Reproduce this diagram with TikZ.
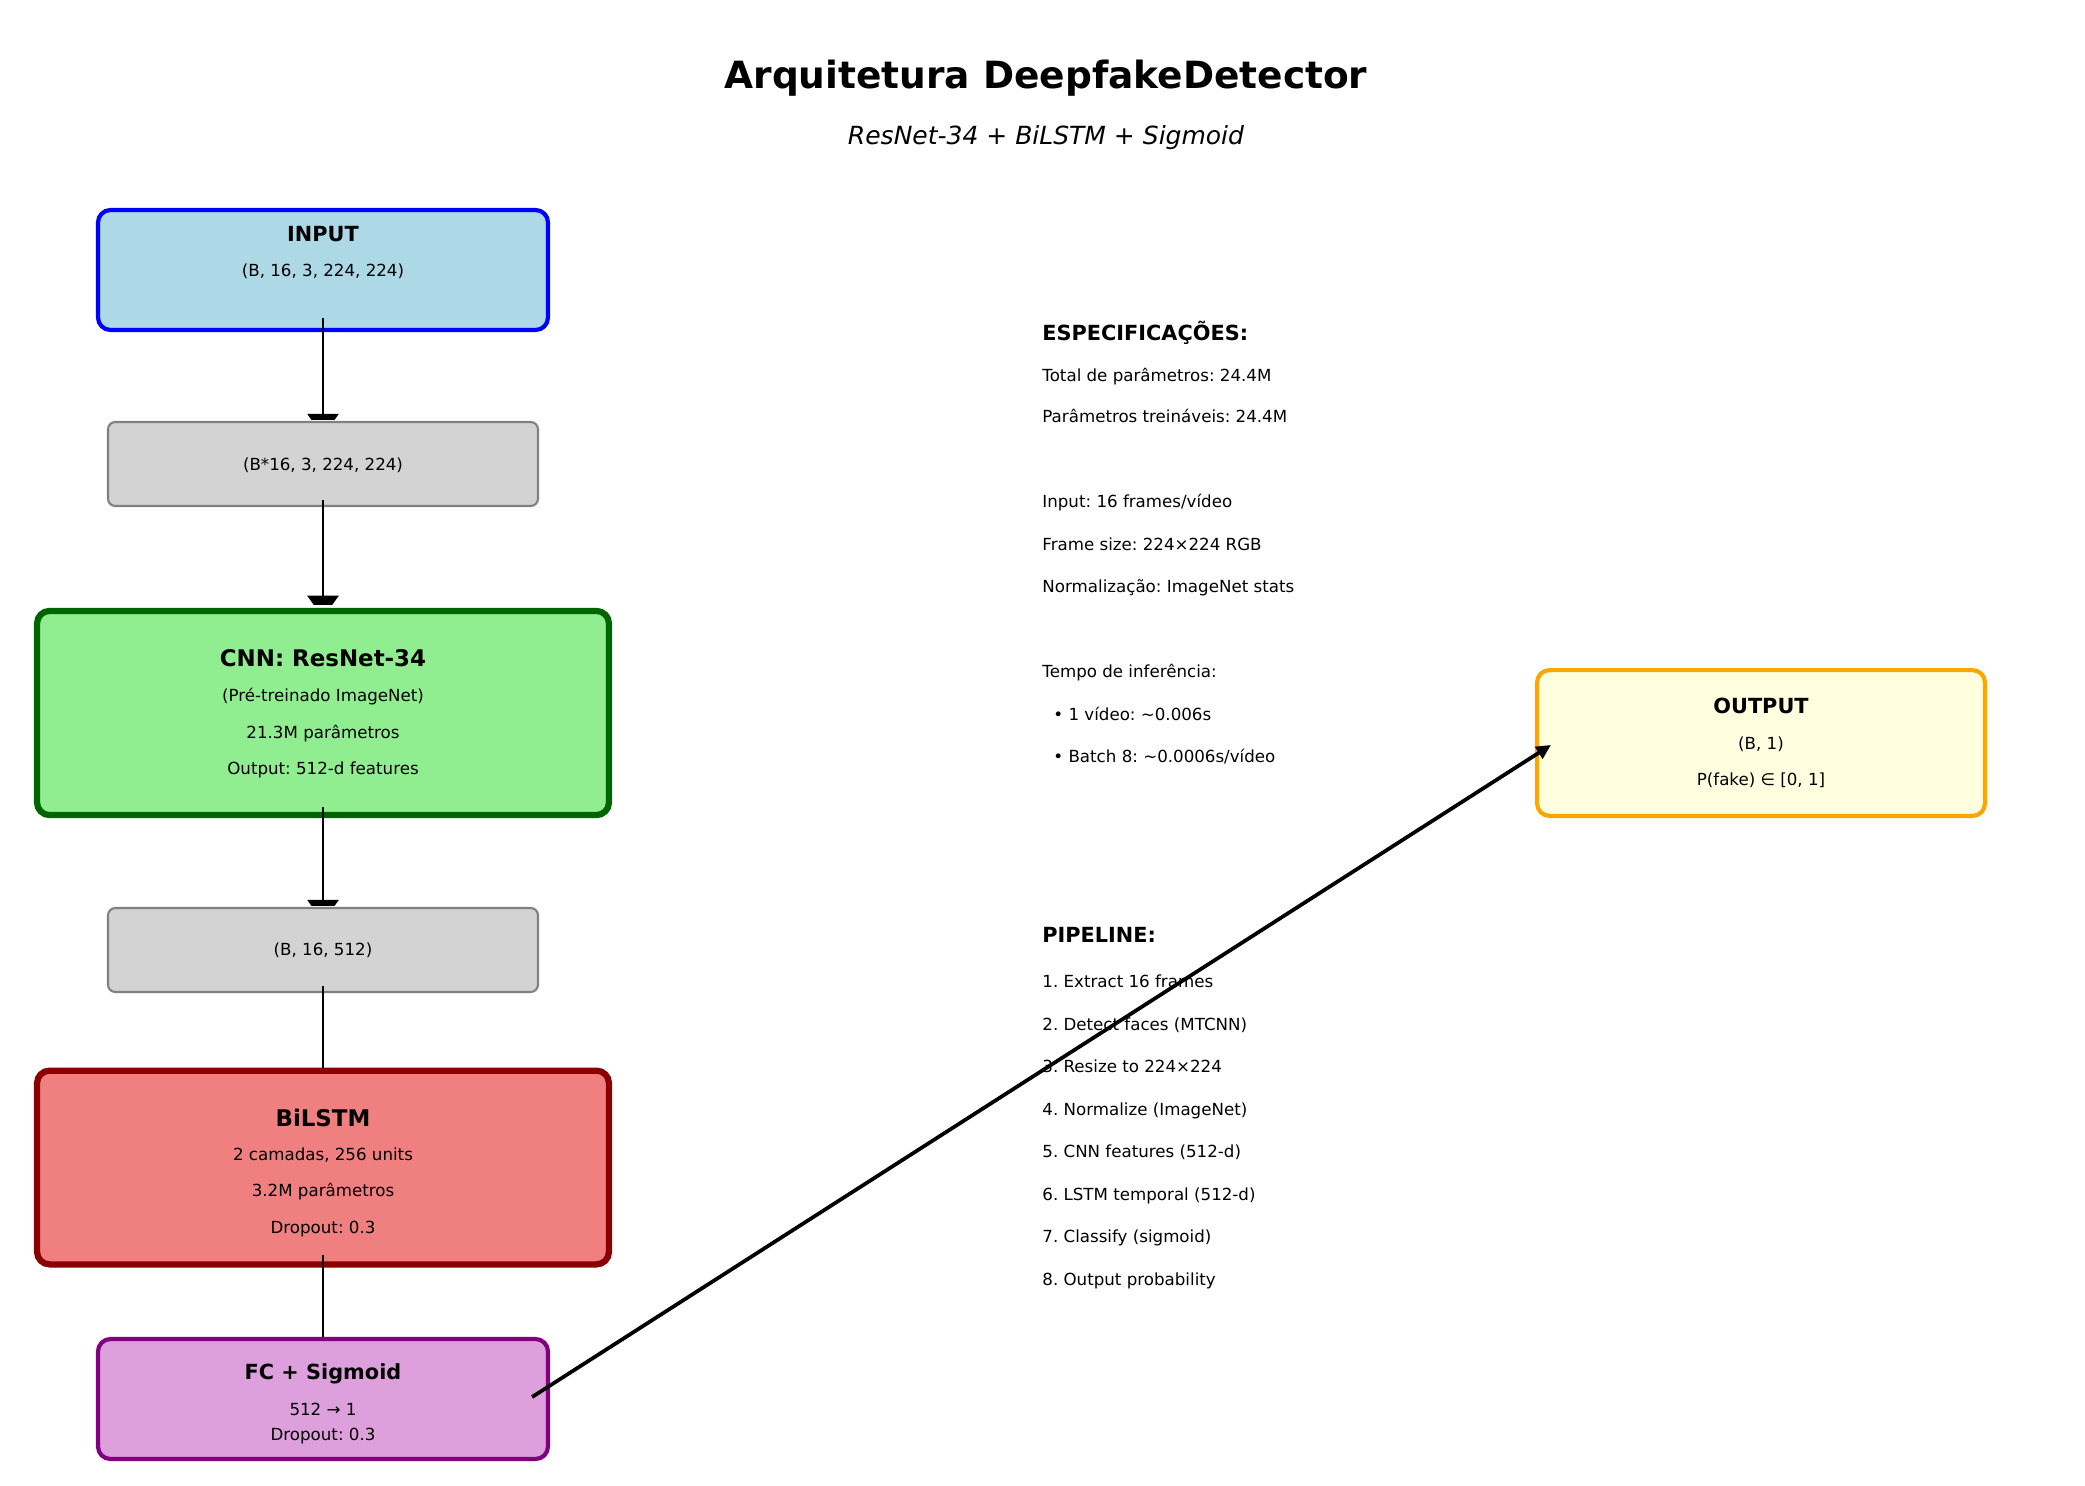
\documentclass[tikz,border=0pt]{standalone}
\usepackage{fontspec}
\setmainfont{DejaVu Sans}
\frenchspacing
\usetikzlibrary{calc,arrows.meta}
\definecolor{cInFill}{HTML}{ADD8E6}
\definecolor{cInLine}{HTML}{0000FF}
\definecolor{cGray}{HTML}{D3D3D3}
\definecolor{cGrayLine}{HTML}{808080}
\definecolor{cCnnFill}{HTML}{90EE90}
\definecolor{cCnnLine}{HTML}{006400}
\definecolor{cLstmFill}{HTML}{F08080}
\definecolor{cLstmLine}{HTML}{8B0000}
\definecolor{cFcFill}{HTML}{DDA0DD}
\definecolor{cFcLine}{HTML}{800080}
\definecolor{cOutFill}{HTML}{FFFFE0}
\definecolor{cOutLine}{HTML}{FFA500}
\begin{document}
\begin{tikzpicture}[x=0.48pt,y=-0.48pt,
  box/.style={draw, rounded corners=6pt, inner sep=0pt},
  shapebox/.style={draw=cGrayLine, fill=cGray, line width=1pt, rounded corners=3.5pt, inner sep=0pt, minimum width=206.4pt, minimum height=40.3pt},
  txt/.style={inner sep=0pt, text height=6.1pt, text depth=1.9pt, font=\fontsize{8}{10}\selectfont},
  ttl/.style={inner sep=0pt, text height=7.6pt, text depth=2.4pt, font=\fontsize{10}{12}\selectfont\bfseries},
  bigttl/.style={inner sep=0pt, text height=8.4pt, text depth=2.6pt, font=\fontsize{11}{13}\selectfont\bfseries},
  lbl/.style={txt, anchor=west},
  lblhead/.style={ttl, anchor=west},
  varr/.style={line width=1.2pt, -{Triangle[width=14.9pt,length=10.6pt]}},
  vline/.style={line width=1.2pt},
  darr/.style={line width=1.8pt, -{Triangle[width=6.5pt,length=7pt]}}
]
\useasboundingbox (0,0) rectangle (2085,1485);

% title
\node[inner sep=0pt, text height=13.7pt, text depth=4.3pt, font=\fontsize{18}{22}\selectfont\bfseries] (title) at (1046,79) {Arquitetura DeepfakeDetector};
\node[inner sep=0pt, text height=9.1pt, text depth=2.9pt, font=\fontsize{12}{14}\selectfont\itshape] (subtitle) at (1046,138) {ResNet-34 + BiLSTM + Sigmoid};

% boxes
\node[box, draw=cInLine, fill=cInFill, line width=2pt, minimum width=216pt, minimum height=57.6pt] (input) at (323,270) {};
\node[ttl] (inputT) at (323,236) {INPUT};
\node[txt] (inputS) at (323,272) {(B, 16, 3, 224, 224)};

\node[shapebox] (g1) at (323,464) {};
\node[txt] (g1T) at (323,466) {(B*16, 3, 224, 224)};

\node[box, draw=cCnnLine, fill=cCnnFill, line width=3pt, minimum width=274.5pt, minimum height=98pt] (cnn) at (323,713) {};
\node[bigttl] (cnnT) at (323,660) {CNN: ResNet-34};
\node[txt] (cnn1) at (323,697) {(Pré-treinado ImageNet)};
\node[txt] (cnn2) at (323,734) {21.3M parâmetros};
\node[txt] (cnn3) at (323,770) {Output: 512-d features};

\node[shapebox] (g2) at (323,950) {};
\node[txt] (g2T) at (323,951) {(B, 16, 512)};

\node[box, draw=cLstmLine, fill=cLstmFill, line width=3pt, minimum width=274.5pt, minimum height=93pt] (lstm) at (323,1167.5) {};
\node[bigttl] (lstmT) at (323,1120) {BiLSTM};
\node[txt] (lstm1) at (323,1156) {2 camadas, 256 units};
\node[txt] (lstm2) at (323,1192) {3.2M parâmetros};
\node[txt] (lstm3) at (323,1229) {Dropout: 0.3};

\node[box, draw=cFcLine, fill=cFcFill, line width=2pt, minimum width=216pt, minimum height=57.6pt] (fc) at (323,1399) {};
\node[ttl] (fcT) at (323,1374) {FC + Sigmoid};
\node[txt] (fc1) at (323,1411) {512 → 1};
\node[txt] (fc2) at (323,1436) {Dropout: 0.3};

\node[box, draw=cOutLine, fill=cOutFill, line width=2pt, minimum width=215pt, minimum height=70pt] (output) at (1761,743) {};
\node[ttl] (outT) at (1761,708) {OUTPUT};
\node[txt] (out1) at (1761,745) {(B, 1)};
\node[txt] (out2) at (1761,781) {P(fake) ∈ [0, 1]};

% specifications
\node[lblhead] (specH) at (1042,335) {ESPECIFICAÇÕES:};
\node[lbl] (s1) at (1042,377) {Total de parâmetros: 24.4M};
\node[lbl] (s2) at (1042,418) {Parâmetros treináveis: 24.4M};
\node[lbl] (s3) at (1042,503) {Input: 16 frames/vídeo};
\node[lbl] (s4) at (1042,546) {Frame size: 224×224 RGB};
\node[lbl] (s5) at (1042,588) {Normalização: ImageNet stats};
\node[lbl] (s6) at (1042,673) {Tempo de inferência:};
\node[lbl] (s7) at (1053,716) {• 1 vídeo: \textasciitilde0.006s};
\node[lbl] (s8) at (1053,758) {• Batch 8: \textasciitilde0.0006s/vídeo};

% pipeline
\node[lblhead] (pipeH) at (1042,937) {PIPELINE:};
\node[lbl] (p1) at (1042,983) {1. Extract 16 frames};
\node[lbl] (p2) at (1042,1026) {2. Detect faces (MTCNN)};
\node[lbl] (p3) at (1042,1068.5) {3. Resize to 224×224};
\node[lbl] (p4) at (1042,1111) {4. Normalize (ImageNet)};
\node[lbl] (p5) at (1042,1153.5) {5. CNN features (512-d)};
\node[lbl] (p6) at (1042,1196) {6. LSTM temporal (512-d)};
\node[lbl] (p7) at (1042,1238.5) {7. Classify (sigmoid)};
\node[lbl] (p8) at (1042,1281) {8. Output probability};

% vertical connectors (heads partly hidden by the target box)
\begin{scope}
  \clip ($(input.south west)+(0,-300)$) rectangle ($(g1.north east)+(0,-1)$);
  \draw[varr] ($(input.south)+(0,-14)$) -- ($(g1.north)+(0,15)$);
\end{scope}
\begin{scope}
  \clip ($(g1.south west)+(0,-300)$) rectangle ($(cnn.north east)+(0,-3)$);
  \draw[varr] ($(g1.south)+(0,-7)$) -- ($(cnn.north)+(0,10)$);
\end{scope}
\begin{scope}
  \clip ($(cnn.south west)+(0,-300)$) rectangle ($(g2.north east)+(0,-1)$);
  \draw[varr] ($(cnn.south)+(0,-11)$) -- ($(g2.north)+(0,15)$);
\end{scope}
\draw[vline] ($(g2.south)+(0,-7)$) -- (lstm.north);
\draw[vline] ($(lstm.south)+(0,-13)$) -- (fc.north);

% diagonal connector
\draw[darr] ($(fc.east)+(-18,-2)$) -- ($(output.west)+(16,2)$);
\end{tikzpicture}
\end{document}
